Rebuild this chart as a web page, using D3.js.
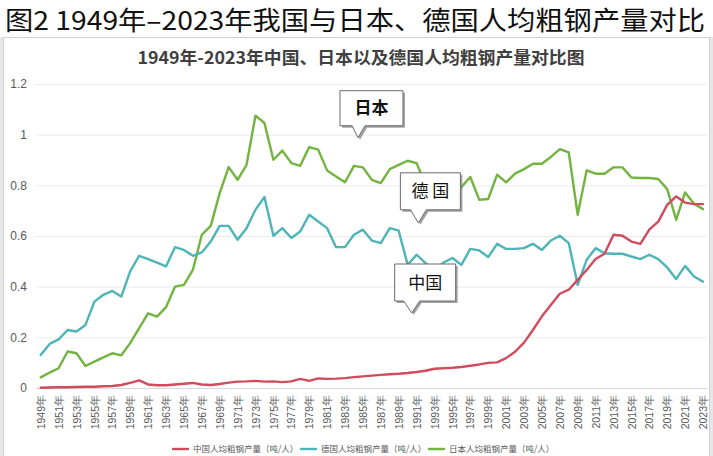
<!DOCTYPE html>
<html>
<head>
<meta charset="utf-8">
<script src="https://cdn.jsdelivr.net/npm/d3@7"></script>
<style>
  html, body { margin: 0; padding: 0; background: #fff; }
  svg { display: block; font-family: "Noto Sans CJK SC", "Noto Sans", sans-serif; }
</style>
</head>
<body>
<svg id="chart"></svg>
<script>
// 1949 .. 2023
const years = d3.range(1949, 2024);

const chinaValues = [
  0.001, 0.002, 0.003, 0.003, 0.004, 0.005, 0.005, 0.007, 0.008, 0.012,
  0.020, 0.030, 0.014, 0.011, 0.011, 0.014, 0.017, 0.020, 0.014, 0.012,
  0.016, 0.021, 0.025, 0.026, 0.028, 0.025, 0.026, 0.023, 0.026, 0.036,
  0.028, 0.038, 0.036, 0.037, 0.039, 0.043, 0.046, 0.049, 0.052, 0.054,
  0.056, 0.059, 0.063, 0.068, 0.076, 0.078, 0.080, 0.083, 0.088, 0.093,
  0.099, 0.101, 0.118, 0.143, 0.179, 0.229, 0.283, 0.328, 0.372, 0.388,
  0.427, 0.466, 0.509, 0.530, 0.605, 0.601, 0.578, 0.569, 0.625, 0.657,
  0.723, 0.756, 0.732, 0.726, 0.726
];

const germanyValues = [
  0.130, 0.174, 0.192, 0.229, 0.223, 0.249, 0.341, 0.368, 0.383, 0.361,
  0.460, 0.522, 0.509, 0.495, 0.480, 0.556, 0.545, 0.522, 0.535, 0.578,
  0.640, 0.640, 0.585, 0.631, 0.704, 0.754, 0.601, 0.631, 0.592, 0.618,
  0.684, 0.657, 0.631, 0.556, 0.556, 0.605, 0.625, 0.582, 0.572, 0.631,
  0.621, 0.486, 0.526, 0.493, 0.465, 0.495, 0.513, 0.486, 0.549, 0.543,
  0.517, 0.569, 0.549, 0.549, 0.552, 0.569, 0.545, 0.582, 0.601, 0.572,
  0.407, 0.506, 0.552, 0.532, 0.530, 0.530, 0.519, 0.509, 0.526, 0.509,
  0.476, 0.430, 0.482, 0.440, 0.420
];

const japanValues = [
  0.042, 0.061, 0.078, 0.144, 0.137, 0.087, 0.104, 0.121, 0.137, 0.129,
  0.177, 0.236, 0.295, 0.282, 0.319, 0.400, 0.407, 0.466, 0.605, 0.640,
  0.769, 0.872, 0.822, 0.881, 1.075, 1.046, 0.901, 0.937, 0.888, 0.877,
  0.951, 0.941, 0.859, 0.835, 0.812, 0.877, 0.871, 0.822, 0.809, 0.864,
  0.881, 0.897, 0.888, 0.802, 0.798, 0.793, 0.816, 0.793, 0.833, 0.743,
  0.746, 0.842, 0.812, 0.846, 0.864, 0.885, 0.885, 0.912, 0.943, 0.930,
  0.684, 0.859, 0.846, 0.846, 0.871, 0.871, 0.831, 0.829, 0.829, 0.825,
  0.785, 0.664, 0.772, 0.727, 0.706
];

const seriesNames = ["中国人均粗钢产量（吨/人）", "德国人均粗钢产量（吨/人）", "日本人均粗钢产量（吨/人）"];
const seriesColors = ["#d04b5c", "#4db5b8", "#72b43f"];

const yTicks = [0, 0.2, 0.4, 0.6, 0.8, 1, 1.2];
const xTickYears = d3.range(1949, 2024, 2);

const heading = "图2 1949年–2023年我国与日本、德国人均粗钢产量对比";
const chartTitle = "1949年-2023年中国、日本以及德国人均粗钢产量对比图";

// callouts: label, year/value of the pointer tip
const callouts = [
  { label: "日本", year: 1984.45, value: 0.988, bold: true },
  { label: "德 国", year: 1991.2, value: 0.652, bold: false },
  { label: "中国", year: 1990.45, value: 0.296, bold: false }
];

const width = 713;
const height = 456;

const svg = d3.select("#chart")
  .attr("width", width)
  .attr("height", height);

// frame around chart region
svg.append("rect")
  .attr("x", 0).attr("y", 37)
  .attr("width", width).attr("height", height - 37)
  .attr("fill", "#e6e6e6");
svg.append("rect")
  .attr("x", 3.5).attr("y", 37.5)
  .attr("width", 706).attr("height", height)
  .attr("fill", "#fff")
  .attr("stroke", "#cfcfcf");

// big heading
svg.append("text")
  .attr("x", 5).attr("y", 30)
  .attr("font-size", 26)
  .attr("fill", "#111")
  .attr("textLength", 700)
  .attr("lengthAdjust", "spacingAndGlyphs")
  .text(heading);

svg.append("text")
  .attr("x", 361).attr("y", 64)
  .attr("text-anchor", "middle")
  .attr("font-size", 17)
  .attr("font-weight", "bold")
  .attr("fill", "#404040")
  .attr("textLength", 447)
  .attr("lengthAdjust", "spacingAndGlyphs")
  .text(chartTitle);

const plotLeft = 36, plotRight = 707;

const x = d3.scaleLinear()
  .domain([1949, 2023])
  .range([40.7, 703]);

const y = d3.scaleLinear()
  .domain([0, 1.2])
  .range([388, 84]);

// y axis + gridlines
const yAxis = svg.append("g")
  .attr("transform", `translate(${plotLeft},0)`)
  .call(d3.axisLeft(y)
    .tickValues(yTicks)
    .tickFormat(d => d)
    .tickSize(-(plotRight - plotLeft))
    .tickPadding(9));
yAxis.select(".domain").remove();
yAxis.selectAll(".tick line")
  .attr("stroke", d => d === 0 ? "#d9d9d9" : "#ebebeb");
yAxis.selectAll(".tick text")
  .attr("fill", "#595959")
  .attr("font-size", 12)
  .attr("font-family", "Liberation Sans, Arial, sans-serif");

// x axis labels
const xAxis = svg.append("g")
  .attr("transform", `translate(0,${y(0)})`)
  .call(d3.axisBottom(x)
    .tickValues(xTickYears)
    .tickFormat(d => d + "年")
    .tickSize(0));
xAxis.select(".domain").remove();
xAxis.selectAll(".tick text")
  .attr("fill", "#595959")
  .attr("font-size", 10.5)
  .attr("text-anchor", "end")
  .attr("transform", "translate(0,7) rotate(-90)")
  .attr("x", 0)
  .attr("y", 0)
  .attr("dy", "0.35em");

// lines
const allSeries = [chinaValues, germanyValues, japanValues];
const line = d3.line()
  .x((d, i) => x(years[i]))
  .y(d => y(d));

// china drawn last so it sits on top
[2, 1, 0].forEach(i => {
  svg.append("path")
    .datum(allSeries[i])
    .attr("fill", "none")
    .attr("stroke", seriesColors[i])
    .attr("stroke-width", 2.4)
    .attr("stroke-linejoin", "round")
    .attr("stroke-linecap", "round")
    .attr("d", line);
});

// callout boxes
const boxes = [
  { l: -18, r: 45, t: -47, b: -12, pl: -6, pr: 7 },
  { l: -18, r: 42, t: -50, b: -13, pl: -8, pr: 8 },
  { l: -17, r: 44, t: -49, b: -12, pl: -8, pr: 8 }
];
callouts.forEach((c, i) => {
  const tx = x(c.year), ty = y(c.value);
  const b = boxes[i];
  const pts = [
    [tx + b.l, ty + b.t], [tx + b.r, ty + b.t], [tx + b.r, ty + b.b],
    [tx + b.pr, ty + b.b], [tx, ty], [tx + b.pl, ty + b.b], [tx + b.l, ty + b.b]
  ];
  const p = "M" + pts.map(q => q.join(",")).join("L") + "Z";
  svg.append("path")
    .attr("d", p)
    .attr("transform", "translate(2,2)")
    .attr("fill", "#7a7a7a")
    .attr("opacity", 0.7);
  svg.append("path")
    .attr("d", p)
    .attr("fill", "#fff")
    .attr("stroke", "#6b6b6b")
    .attr("stroke-width", 1);
  svg.append("text")
    .attr("x", tx + (b.l + b.r) / 2)
    .attr("y", ty + (b.t + b.b) / 2 + 6)
    .attr("text-anchor", "middle")
    .attr("font-size", 17)
    .attr("font-weight", c.bold ? "bold" : "normal")
    .attr("fill", "#111")
    .text(c.label);
});

// legend
const legendX = [172, 300, 428];
const legend = svg.append("g").attr("transform", "translate(0,449)");
seriesNames.forEach((name, i) => {
  legend.append("line")
    .attr("x1", legendX[i]).attr("x2", legendX[i] + 17)
    .attr("y1", 0).attr("y2", 0)
    .attr("stroke", seriesColors[i])
    .attr("stroke-width", 2.4);
  legend.append("text")
    .attr("x", legendX[i] + 21)
    .attr("y", 3)
    .attr("font-size", 8.5)
    .attr("fill", "#595959")
    .text(name);
});
</script>
</body>
</html>
